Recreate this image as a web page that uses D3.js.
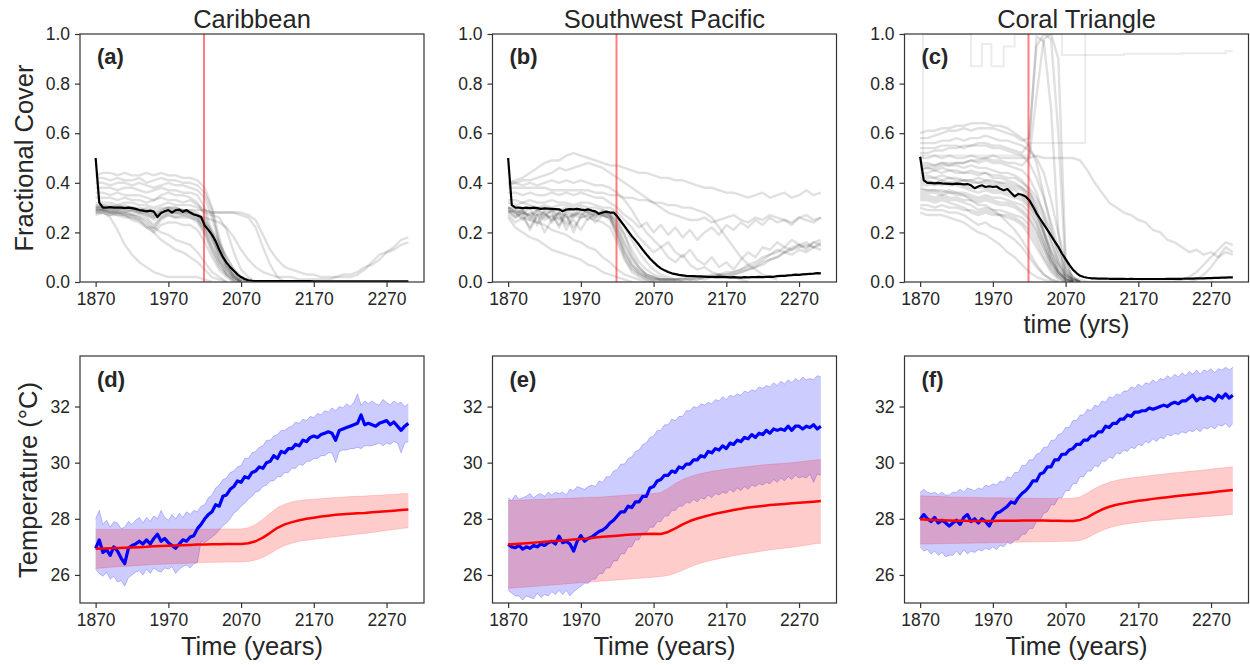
<!DOCTYPE html>
<html lang="en">
  <head>
    <meta charset="utf-8" />
    <title>Coral cover and temperature</title>
    <script src="https://d3js.org/d3.v7.js"></script>
    <style>
      body { margin: 0; background: #fff; }
      text { font-family: "Liberation Sans", Arial, sans-serif; fill: #262626; }
    </style>
  </head>
  <body>
    <div id="graph"></div>
    <script>

    // time grids (5-yr for means / blue ranges, 10-yr for runs and red ranges)
    var yrs5 = d3.range(1870, 2301, 5);
    var yrs10 = d3.range(1870, 2301, 10);

    var regions = ["Caribbean", "Southwest Pacific", "Coral Triangle"];
    var tagsTop = ["(a)", "(b)", "(c)"];
    var tagsBot = ["(d)", "(e)", "(f)"];
    var xTicks = [1870, 1970, 2070, 2170, 2270];
    var coverTicks = [0, 0.2, 0.4, 0.6, 0.8, 1.0];
    var tempTicks = [26, 28, 30, 32];
    var thresholdYear = 2019;

    // ---- fractional cover, ensemble mean (5-yr) ----
    var coverMeanCarib = [
      0.50, 0.32, 0.30, 0.30, 0.302, 0.30, 0.30, 0.30, 0.298, 0.30,
      0.298, 0.295, 0.29, 0.288, 0.285, 0.288, 0.284, 0.262, 0.278, 0.285,
      0.29, 0.28, 0.29, 0.292, 0.283, 0.29, 0.28, 0.272, 0.268, 0.262,
      0.228, 0.21, 0.19, 0.165, 0.13, 0.10, 0.078, 0.06, 0.045, 0.03,
      0.02, 0.012, 0.007, 0.005, 0.004, 0.004, 0.004, 0.004, 0.004, 0.004,
      0.004, 0.004, 0.004, 0.004, 0.004, 0.004, 0.004, 0.004, 0.004, 0.004,
      0.003, 0.003, 0.003, 0.003, 0.003, 0.003, 0.003, 0.003, 0.003, 0.003,
      0.003, 0.003, 0.003, 0.003, 0.003, 0.003, 0.003, 0.003, 0.003, 0.003,
      0.003, 0.003, 0.003, 0.003, 0.003, 0.003, 0.003
    ];
    var coverMeanSWP = [
      0.50, 0.31, 0.30, 0.30, 0.298, 0.30, 0.298, 0.30, 0.298, 0.295,
      0.297, 0.296, 0.295, 0.294, 0.293, 0.285, 0.292, 0.294, 0.293, 0.295,
      0.292, 0.29, 0.293, 0.288, 0.285, 0.275, 0.28, 0.284, 0.28, 0.28,
      0.265, 0.245, 0.225, 0.205, 0.185, 0.168, 0.15, 0.13, 0.112, 0.095,
      0.08, 0.066, 0.055, 0.047, 0.04, 0.035, 0.032, 0.029, 0.027, 0.025,
      0.024, 0.024, 0.023, 0.023, 0.022, 0.021, 0.021, 0.02, 0.021, 0.02,
      0.02, 0.019, 0.02, 0.019, 0.018, 0.02, 0.019, 0.02, 0.02, 0.021,
      0.02, 0.021, 0.022, 0.021, 0.024, 0.025, 0.025, 0.027, 0.028, 0.03,
      0.029, 0.031, 0.032, 0.033, 0.034, 0.036, 0.035
    ];
    var coverMeanCT = [
      0.505, 0.41, 0.40, 0.40, 0.398, 0.40, 0.398, 0.397, 0.396, 0.395,
      0.397, 0.396, 0.394, 0.395, 0.39, 0.378, 0.385, 0.39, 0.383, 0.386,
      0.383, 0.385, 0.376, 0.37, 0.375, 0.36, 0.345, 0.355, 0.352, 0.345,
      0.33, 0.305, 0.277, 0.255, 0.232, 0.21, 0.187, 0.164, 0.142, 0.115,
      0.092, 0.07, 0.05, 0.036, 0.025, 0.02, 0.017, 0.015, 0.015, 0.014,
      0.014, 0.014, 0.013, 0.013, 0.013, 0.013, 0.013, 0.012, 0.013, 0.012,
      0.012, 0.012, 0.012, 0.012, 0.012, 0.012, 0.012, 0.012, 0.013, 0.013,
      0.013, 0.013, 0.013, 0.014, 0.014, 0.014, 0.015, 0.015, 0.015, 0.016,
      0.016, 0.017, 0.017, 0.018, 0.018, 0.019, 0.019
    ];

    // ---- fractional cover, individual runs (10-yr, end once they reach 0) ----
    var coverRunsCarib = [
      [0.43, 0.44, 0.44, 0.43, 0.44, 0.43, 0.43, 0.44, 0.43, 0.44, 0.43, 0.43, 0.42, 0.42, 0.41, 0.38, 0.30, 0.18, 0.08, 0.03, 0.0],
      [0.42, 0.42, 0.41, 0.42, 0.41, 0.41, 0.42, 0.40, 0.41, 0.42, 0.41, 0.41, 0.40, 0.40, 0.39, 0.36, 0.29, 0.15, 0.06, 0.02, 0.0],
      [0.40, 0.40, 0.39, 0.40, 0.40, 0.39, 0.40, 0.39, 0.38, 0.39, 0.40, 0.39, 0.39, 0.38, 0.37, 0.34, 0.26, 0.16, 0.07, 0.02, 0.0],
      [0.38, 0.38, 0.38, 0.37, 0.38, 0.38, 0.37, 0.36, 0.37, 0.38, 0.37, 0.37, 0.36, 0.36, 0.35, 0.30, 0.20, 0.11, 0.05, 0.01, 0.0],
      [0.36, 0.36, 0.35, 0.36, 0.35, 0.35, 0.35, 0.34, 0.33, 0.35, 0.36, 0.35, 0.35, 0.34, 0.32, 0.27, 0.18, 0.09, 0.03, 0.0],
      [0.34, 0.34, 0.34, 0.33, 0.34, 0.33, 0.33, 0.32, 0.33, 0.34, 0.33, 0.33, 0.32, 0.33, 0.31, 0.29, 0.28, 0.28, 0.28, 0.28, 0.27, 0.26, 0.22, 0.14, 0.07, 0.02, 0.0],
      [0.30, 0.31, 0.30, 0.31, 0.30, 0.30, 0.29, 0.30, 0.29, 0.30, 0.30, 0.30, 0.29, 0.29, 0.29, 0.29, 0.28, 0.28, 0.28, 0.28, 0.28, 0.27, 0.25, 0.19, 0.13, 0.09, 0.06, 0.05, 0.04, 0.03, 0.03, 0.02, 0.02, 0.02, 0.03, 0.03, 0.04, 0.06, 0.07, 0.09, 0.12, 0.13, 0.15, 0.16],
      [0.29, 0.29, 0.29, 0.28, 0.28, 0.29, 0.28, 0.27, 0.26, 0.28, 0.29, 0.28, 0.28, 0.28, 0.27, 0.26, 0.25, 0.24, 0.22, 0.18, 0.13, 0.09, 0.06, 0.04, 0.03, 0.02, 0.02, 0.02, 0.01, 0.01, 0.01, 0.01, 0.01, 0.02, 0.02, 0.02, 0.03, 0.05, 0.08, 0.11, 0.12, 0.14, 0.17, 0.18],
      [0.28, 0.28, 0.26, 0.21, 0.15, 0.11, 0.08, 0.06, 0.04, 0.03, 0.02, 0.02, 0.02, 0.02, 0.02, 0.01, 0.0],
      [0.29, 0.29, 0.28, 0.28, 0.27, 0.26, 0.25, 0.23, 0.20, 0.17, 0.15, 0.13, 0.12, 0.10, 0.08, 0.05, 0.02, 0.01, 0.0],
      [0.30, 0.29, 0.28, 0.27, 0.27, 0.25, 0.24, 0.22, 0.22, 0.20, 0.19, 0.17, 0.16, 0.15, 0.12, 0.08, 0.04, 0.02, 0.0],
      [0.30, 0.30, 0.30, 0.29, 0.30, 0.29, 0.28, 0.27, 0.25, 0.27, 0.28, 0.28, 0.27, 0.27, 0.25, 0.21, 0.14, 0.08, 0.04, 0.02, 0.01, 0.0],
      [0.28, 0.29, 0.28, 0.28, 0.28, 0.27, 0.27, 0.26, 0.23, 0.26, 0.27, 0.26, 0.27, 0.26, 0.24, 0.19, 0.12, 0.06, 0.03, 0.01, 0.0],
      [0.31, 0.31, 0.31, 0.30, 0.31, 0.30, 0.30, 0.29, 0.27, 0.29, 0.30, 0.30, 0.29, 0.28, 0.26, 0.22, 0.17, 0.12, 0.07, 0.03, 0.01, 0.0],
      [0.27, 0.28, 0.27, 0.27, 0.26, 0.26, 0.25, 0.22, 0.20, 0.23, 0.24, 0.24, 0.23, 0.23, 0.21, 0.16, 0.10, 0.05, 0.02, 0.0],
      [0.29, 0.30, 0.29, 0.29, 0.29, 0.28, 0.28, 0.28, 0.26, 0.28, 0.29, 0.29, 0.28, 0.28, 0.27, 0.24, 0.20, 0.15, 0.10, 0.05, 0.02, 0.01, 0.0],
      [0.32, 0.32, 0.32, 0.31, 0.32, 0.32, 0.31, 0.31, 0.30, 0.31, 0.32, 0.31, 0.31, 0.31, 0.30, 0.28, 0.27, 0.26, 0.21, 0.12, 0.05, 0.02, 0.0],
      [0.29, 0.29, 0.28, 0.29, 0.28, 0.27, 0.26, 0.25, 0.22, 0.26, 0.28, 0.27, 0.28, 0.27, 0.26, 0.22, 0.15, 0.09, 0.05, 0.02, 0.0],
      [0.30, 0.30, 0.29, 0.30, 0.29, 0.29, 0.29, 0.28, 0.27, 0.28, 0.29, 0.28, 0.29, 0.28, 0.27, 0.24, 0.18, 0.11, 0.06, 0.03, 0.01, 0.0],
      [0.28, 0.28, 0.27, 0.28, 0.27, 0.27, 0.26, 0.24, 0.21, 0.25, 0.27, 0.26, 0.26, 0.26, 0.25, 0.20, 0.13, 0.07, 0.03, 0.01, 0.0],
      [0.31, 0.30, 0.30, 0.30, 0.30, 0.30, 0.29, 0.29, 0.28, 0.29, 0.30, 0.29, 0.29, 0.29, 0.28, 0.25, 0.21, 0.16, 0.10, 0.05, 0.02, 0.0]
    ];
    var coverRunsSWP = [
      [0.40, 0.41, 0.42, 0.44, 0.46, 0.48, 0.49, 0.49, 0.51, 0.52, 0.51, 0.50, 0.49, 0.48, 0.47, 0.47, 0.46, 0.45, 0.44, 0.44, 0.43, 0.42, 0.42, 0.41, 0.41, 0.40, 0.39, 0.38, 0.38, 0.37, 0.36, 0.36, 0.35, 0.34, 0.35, 0.36, 0.34, 0.35, 0.36, 0.34, 0.35, 0.37, 0.35, 0.36],
      [0.39, 0.40, 0.41, 0.41, 0.42, 0.43, 0.44, 0.46, 0.45, 0.46, 0.47, 0.48, 0.47, 0.46, 0.44, 0.42, 0.40, 0.38, 0.36, 0.34, 0.32, 0.30, 0.28, 0.27, 0.26, 0.25, 0.25, 0.26, 0.24, 0.25, 0.26, 0.27, 0.25, 0.24, 0.26, 0.25, 0.27, 0.26, 0.25, 0.24, 0.26, 0.27, 0.25, 0.26],
      [0.38, 0.38, 0.38, 0.38, 0.38, 0.38, 0.37, 0.37, 0.37, 0.37, 0.37, 0.37, 0.36, 0.36, 0.35, 0.35, 0.34, 0.34, 0.33, 0.33, 0.32, 0.32, 0.31, 0.31, 0.30, 0.30, 0.29, 0.28, 0.26, 0.22, 0.18, 0.14, 0.10, 0.07, 0.05, 0.03, 0.02, 0.01],
      [0.40, 0.40, 0.39, 0.40, 0.39, 0.40, 0.41, 0.40, 0.41, 0.40, 0.41, 0.40, 0.39, 0.39, 0.38, 0.36, 0.33, 0.29, 0.24, 0.20, 0.17, 0.14, 0.16, 0.12, 0.10, 0.13, 0.09, 0.07, 0.10, 0.06, 0.08, 0.05, 0.09, 0.12, 0.10, 0.14, 0.13, 0.16, 0.14, 0.17, 0.15, 0.16, 0.14, 0.15],
      [0.36, 0.36, 0.35, 0.36, 0.35, 0.35, 0.36, 0.35, 0.36, 0.35, 0.36, 0.35, 0.34, 0.34, 0.32, 0.30, 0.27, 0.25, 0.22, 0.24, 0.20, 0.23, 0.19, 0.22, 0.18, 0.21, 0.17, 0.20, 0.22, 0.19, 0.23, 0.21, 0.24, 0.22, 0.25, 0.23, 0.26, 0.24, 0.25, 0.23, 0.26, 0.25, 0.24, 0.26],
      [0.30, 0.29, 0.27, 0.30, 0.24, 0.29, 0.28, 0.22, 0.29, 0.27, 0.30, 0.28, 0.26, 0.29, 0.27, 0.22, 0.15, 0.09, 0.05, 0.03, 0.02, 0.01, 0.01, 0.01, 0.02, 0.01, 0.01, 0.02, 0.03, 0.03, 0.02, 0.03, 0.04, 0.05, 0.06, 0.08, 0.09, 0.10, 0.12, 0.13, 0.14, 0.15, 0.14, 0.16],
      [0.29, 0.27, 0.29, 0.25, 0.28, 0.26, 0.29, 0.27, 0.24, 0.28, 0.27, 0.29, 0.28, 0.27, 0.26, 0.20, 0.12, 0.07, 0.04, 0.02, 0.01, 0.01, 0.01, 0.01, 0.01, 0.02, 0.02, 0.01, 0.02, 0.03, 0.04, 0.04, 0.05, 0.07, 0.08, 0.10, 0.11, 0.13, 0.12, 0.14, 0.15, 0.13, 0.16, 0.15],
      [0.27, 0.24, 0.26, 0.22, 0.27, 0.20, 0.25, 0.26, 0.23, 0.25, 0.21, 0.26, 0.25, 0.24, 0.22, 0.16, 0.09, 0.05, 0.03, 0.02, 0.01, 0.01, 0.01, 0.01, 0.01, 0.01, 0.02, 0.02, 0.02, 0.02, 0.03, 0.03, 0.04, 0.05, 0.06, 0.07, 0.09, 0.10, 0.12, 0.11, 0.13, 0.12, 0.14, 0.13],
      [0.28, 0.29, 0.28, 0.27, 0.29, 0.28, 0.25, 0.28, 0.27, 0.20, 0.27, 0.28, 0.27, 0.28, 0.27, 0.24, 0.19, 0.13, 0.08, 0.05, 0.03, 0.02, 0.01, 0.0],
      [0.32, 0.31, 0.32, 0.31, 0.30, 0.31, 0.30, 0.31, 0.31, 0.30, 0.31, 0.30, 0.30, 0.29, 0.28, 0.26, 0.22, 0.17, 0.12, 0.08, 0.05, 0.03, 0.02, 0.01, 0.0],
      [0.26, 0.22, 0.20, 0.18, 0.17, 0.15, 0.13, 0.12, 0.11, 0.10, 0.09, 0.07, 0.06, 0.04, 0.03, 0.02, 0.01, 0.0],
      [0.30, 0.28, 0.26, 0.25, 0.24, 0.23, 0.21, 0.20, 0.19, 0.17, 0.16, 0.14, 0.13, 0.10, 0.08, 0.05, 0.03, 0.02, 0.01, 0.0],
      [0.33, 0.33, 0.32, 0.33, 0.32, 0.32, 0.33, 0.32, 0.32, 0.31, 0.32, 0.32, 0.31, 0.30, 0.30, 0.28, 0.25, 0.22, 0.18, 0.15, 0.12, 0.14, 0.10, 0.08, 0.11, 0.07, 0.05, 0.06, 0.04, 0.03, 0.02, 0.02, 0.01, 0.0],
      [0.30, 0.30, 0.29, 0.30, 0.29, 0.30, 0.29, 0.29, 0.30, 0.29, 0.29, 0.29, 0.28, 0.28, 0.27, 0.25, 0.19, 0.11, 0.06, 0.03, 0.02, 0.01, 0.0],
      [0.29, 0.26, 0.28, 0.21, 0.27, 0.25, 0.27, 0.23, 0.27, 0.22, 0.26, 0.27, 0.26, 0.27, 0.25, 0.18, 0.10, 0.04, 0.02, 0.01, 0.0],
      [0.30, 0.28, 0.29, 0.26, 0.29, 0.27, 0.29, 0.25, 0.28, 0.26, 0.29, 0.28, 0.27, 0.28, 0.27, 0.23, 0.16, 0.10, 0.06, 0.03, 0.02, 0.01, 0.01, 0.01, 0.01, 0.01, 0.01, 0.02, 0.02, 0.03, 0.03, 0.04, 0.05, 0.06, 0.07, 0.09, 0.11, 0.12, 0.14, 0.13, 0.15, 0.14, 0.16, 0.17],
      [0.29, 0.28, 0.25, 0.28, 0.27, 0.28, 0.24, 0.28, 0.26, 0.27, 0.28, 0.25, 0.28, 0.27, 0.26, 0.21, 0.13, 0.07, 0.04, 0.02, 0.01, 0.0],
      [0.28, 0.26, 0.28, 0.27, 0.23, 0.27, 0.26, 0.28, 0.21, 0.27, 0.26, 0.27, 0.24, 0.27, 0.26, 0.19, 0.11, 0.06, 0.03, 0.01, 0.0]
    ];
    var coverRunsCT = [
      [0.60, 0.61, 0.61, 0.62, 0.62, 0.63, 0.63, 0.64, 0.64, 0.64, 0.63, 0.63, 0.62, 0.60, 0.58, 0.55, 0.48, 0.35, 0.22, 0.10, 0.04, 0.01, 0.0],
      [0.58, 0.58, 0.59, 0.60, 0.61, 0.61, 0.62, 0.61, 0.62, 0.62, 0.62, 0.61, 0.60, 0.59, 0.57, 0.58, 0.95, 1.00, 0.98, 0.60, 0.05, 0.0],
      [0.56, 0.56, 0.56, 0.57, 0.57, 0.58, 0.57, 0.58, 0.58, 0.59, 0.58, 0.57, 0.57, 0.56, 0.55, 0.53, 0.50, 0.44, 0.33, 0.20, 0.08, 0.02, 0.0],
      [0.45, 0.46, 0.46, 0.47, 0.47, 0.48, 0.48, 0.49, 0.49, 0.50, 0.49, 0.49, 0.48, 0.48, 0.47, 0.50, 0.75, 0.98, 1.00, 0.90, 0.10, 0.0],
      [0.52, 0.52, 0.53, 0.53, 0.54, 0.54, 0.55, 0.55, 0.56, 0.56, 0.55, 0.55, 0.54, 0.53, 0.52, 0.56, 0.99, 0.97, 0.70, 0.20, 0.0],
      [0.48, 0.48, 0.47, 0.48, 0.47, 0.47, 0.46, 0.47, 0.46, 0.46, 0.45, 0.44, 0.44, 0.43, 0.41, 0.37, 0.30, 0.20, 0.10, 0.04, 0.01, 0.0],
      [0.42, 0.42, 0.42, 0.41, 0.42, 0.41, 0.41, 0.40, 0.40, 0.40, 0.39, 0.39, 0.38, 0.37, 0.35, 0.32, 0.27, 0.20, 0.12, 0.06, 0.02, 0.0],
      [0.40, 0.40, 0.39, 0.40, 0.39, 0.39, 0.38, 0.37, 0.36, 0.37, 0.36, 0.36, 0.35, 0.34, 0.33, 0.30, 0.24, 0.16, 0.08, 0.03, 0.01, 0.0],
      [0.36, 0.36, 0.36, 0.35, 0.36, 0.35, 0.35, 0.34, 0.33, 0.34, 0.33, 0.32, 0.32, 0.31, 0.29, 0.26, 0.21, 0.14, 0.07, 0.03, 0.01, 0.0],
      [0.33, 0.33, 0.32, 0.33, 0.32, 0.31, 0.30, 0.28, 0.27, 0.28, 0.27, 0.27, 0.26, 0.25, 0.23, 0.19, 0.14, 0.09, 0.04, 0.01, 0.0],
      [0.30, 0.29, 0.29, 0.29, 0.28, 0.28, 0.27, 0.25, 0.23, 0.24, 0.22, 0.21, 0.19, 0.17, 0.14, 0.10, 0.06, 0.03, 0.01, 0.0],
      [0.28, 0.27, 0.27, 0.27, 0.26, 0.25, 0.24, 0.22, 0.20, 0.19, 0.17, 0.15, 0.12, 0.10, 0.07, 0.04, 0.02, 0.01, 0.0],
      [0.38, 0.37, 0.37, 0.37, 0.36, 0.36, 0.35, 0.33, 0.31, 0.31, 0.29, 0.27, 0.24, 0.21, 0.17, 0.12, 0.07, 0.03, 0.01, 0.0],
      [0.44, 0.44, 0.45, 0.44, 0.45, 0.44, 0.44, 0.45, 0.44, 0.44, 0.43, 0.43, 0.42, 0.42, 0.40, 0.38, 0.34, 0.28, 0.20, 0.12, 0.05, 0.02, 0.0],
      [0.54, 0.54, 0.54, 0.55, 0.55, 0.55, 0.54, 0.55, 0.55, 0.55, 0.54, 0.54, 0.53, 0.52, 0.51, 0.48, 0.42, 0.34, 0.24, 0.14, 0.06, 0.02, 0.0],
      [0.50, 0.50, 0.51, 0.50, 0.51, 0.50, 0.50, 0.51, 0.50, 0.50, 0.51, 0.50, 0.50, 0.50, 0.50, 0.50, 0.51, 0.50, 0.50, 0.50, 0.50, 0.50, 0.49, 0.45, 0.40, 0.36, 0.32, 0.30, 0.28, 0.27, 0.25, 0.24, 0.21, 0.20, 0.17, 0.16, 0.14, 0.12, 0.13, 0.11, 0.12, 0.10, 0.12, 0.11],
      [0.35, 0.35, 0.34, 0.35, 0.34, 0.34, 0.33, 0.33, 0.32, 0.33, 0.32, 0.31, 0.31, 0.30, 0.28, 0.25, 0.20, 0.14, 0.08, 0.04, 0.02, 0.01, 0.01, 0.0, 0.0, 0.0, 0.0, 0.0, 0.0, 0.0, 0.0, 0.0, 0.0, 0.0, 0.0, 0.0, 0.01, 0.02, 0.04, 0.07, 0.10, 0.13, 0.16, 0.15],
      [0.46, 0.46, 0.45, 0.46, 0.45, 0.45, 0.44, 0.44, 0.43, 0.44, 0.42, 0.42, 0.41, 0.40, 0.38, 0.35, 0.29, 0.21, 0.13, 0.07, 0.03, 0.01, 0.0, 0.0, 0.0, 0.0, 0.0, 0.0, 0.0, 0.0, 0.0, 0.0, 0.0, 0.0, 0.0, 0.0, 0.0, 0.0, 0.01, 0.03, 0.06, 0.10, 0.14, 0.12],
      [0.31, 0.31, 0.30, 0.31, 0.30, 0.30, 0.29, 0.29, 0.28, 0.29, 0.28, 0.27, 0.27, 0.26, 0.24, 0.21, 0.16, 0.10, 0.05, 0.02, 0.0],
      [0.39, 0.39, 0.40, 0.39, 0.40, 0.40, 0.41, 0.41, 0.42, 0.41, 0.41, 0.40, 0.40, 0.39, 0.38, 0.36, 0.32, 0.25, 0.16, 0.08, 0.03, 0.01, 0.0],
      [0.43, 0.43, 0.42, 0.43, 0.42, 0.42, 0.41, 0.41, 0.40, 0.41, 0.40, 0.40, 0.39, 0.38, 0.37, 0.34, 0.28, 0.20, 0.12, 0.05, 0.02, 0.0],
      [0.37, 0.37, 0.37, 0.36, 0.37, 0.36, 0.36, 0.35, 0.34, 0.35, 0.34, 0.34, 0.33, 0.32, 0.31, 0.28, 0.23, 0.16, 0.09, 0.04, 0.01, 0.0],
      [0.41, 0.41, 0.40, 0.41, 0.40, 0.40, 0.39, 0.38, 0.38, 0.38, 0.37, 0.37, 0.36, 0.35, 0.34, 0.31, 0.26, 0.18, 0.10, 0.04, 0.01, 0.0],
      [0.34, 0.34, 0.33, 0.34, 0.33, 0.33, 0.32, 0.31, 0.29, 0.30, 0.29, 0.29, 0.28, 0.27, 0.26, 0.23, 0.18, 0.12, 0.06, 0.02, 0.0],
      [0.47, 0.47, 0.47, 0.48, 0.48, 0.48, 0.48, 0.49, 0.48, 0.49, 0.48, 0.48, 0.47, 0.46, 0.45, 0.42, 0.36, 0.27, 0.17, 0.08, 0.03, 0.01, 0.0]
    ];
    // two stepped runs in the Coral Triangle (change years and levels)
    var stepYearsCT1 = [1870, 1874, 1940, 1955, 1968, 1985, 2000, 2065, 2150, 2230, 2290, 2300];
    var stepCoverCT1 = [0.50, 1.00, 0.87, 0.96, 0.87, 0.95, 1.00, 0.915, 0.92, 0.922, 0.93, 0.93];
    var stepYearsCT2 = [1870, 2021, 2097];
    var stepCoverCT2 = [0.51, 0.56, 1.00];

    // ---- temperature, mean with +- range (blue, 5-yr) ----
    var tempCarib = [
      26.95, 27.25, 26.8, 26.9, 26.7, 27.0, 26.85, 26.6, 26.4, 26.95,
      27.05, 27.1, 27.2, 27.1, 27.25, 27.1, 27.3, 27.45, 27.2, 27.3,
      27.15, 27.05, 26.95, 27.1, 27.25, 27.2, 27.35, 27.4, 27.65, 27.8,
      28.0, 28.15, 28.25, 28.5, 28.45, 28.8, 28.85, 29.05, 29.15, 29.35,
      29.3, 29.5, 29.45, 29.65, 29.7, 29.85, 29.8, 30.0, 30.05, 30.25,
      30.15, 30.4, 30.35, 30.5, 30.5, 30.65, 30.6, 30.8, 30.75, 30.9,
      30.95, 30.9, 31.0, 31.05, 31.1, 31.05, 30.8, 31.15, 31.2, 31.25,
      31.3, 31.35, 31.4, 31.7, 31.35, 31.4, 31.35, 31.3, 31.4, 31.45,
      31.5, 31.35, 31.45, 31.3, 31.15, 31.3, 31.4
    ];
    var tempHiCarib = [
      28.0, 28.3, 27.8, 27.95, 27.7, 27.9, 27.85, 27.65, 27.7, 27.9,
      27.8, 27.95, 28.05, 27.85, 28.05, 27.9, 28.1, 28.0, 28.3, 28.05,
      27.95, 28.15, 28.0, 28.2, 28.05, 28.25, 28.15, 28.3, 28.25, 28.45,
      28.5, 28.75, 28.85, 29.1, 29.2, 29.4, 29.45, 29.65, 29.7, 29.85,
      29.9, 30.15, 30.15, 30.35, 30.4, 30.55, 30.6, 30.8, 30.8, 30.95,
      31.0, 31.15, 31.15, 31.25, 31.3, 31.45, 31.4, 31.55, 31.5, 31.65,
      31.6, 31.75, 31.7, 31.85, 31.8, 31.95, 31.85, 32.0, 31.95, 32.1,
      32.0, 32.15, 32.45, 32.05, 32.2, 32.1, 32.2, 32.1, 32.05, 32.25,
      32.15, 32.05, 32.2, 32.1, 32.15, 32.0, 32.1
    ];
    var tempLoCarib = [
      26.2, 26.05, 25.95, 26.1, 25.85, 25.95, 25.75, 25.8, 25.6, 25.9,
      26.0, 26.1, 26.15, 26.0, 26.2, 26.05, 26.25, 26.15, 26.1, 26.25,
      26.2, 26.3, 26.05, 26.2, 26.3, 26.35, 26.25, 26.4, 26.45, 27.2,
      27.15, 27.25, 27.35, 27.45, 27.6, 27.75, 27.85, 28.0, 28.2, 28.3,
      28.45, 28.55, 28.7, 28.8, 28.95, 29.0, 29.15, 29.2, 29.35, 29.35,
      29.5, 29.5, 29.65, 29.65, 29.8, 29.8, 29.95, 29.9, 30.05, 30.05,
      30.15, 30.15, 30.25, 30.25, 30.35, 30.35, 30.0, 30.4, 30.45, 30.45,
      30.5, 30.5, 30.55, 30.5, 30.6, 30.6, 30.6, 30.65, 30.7, 30.6,
      30.7, 30.65, 30.75, 30.7, 30.35, 30.7, 30.75
    ];
    var tempSWP = [
      27.09, 27.0, 26.97, 27.05, 26.92, 27.0, 26.95, 27.05, 27.0, 27.1,
      27.05, 27.15, 27.2, 27.1, 27.38, 27.15, 27.2, 27.1, 26.85, 27.2,
      27.4, 27.2, 27.3, 27.35, 27.45, 27.55, 27.6, 27.7, 27.85, 27.95,
      28.1, 28.25, 28.25, 28.45, 28.4, 28.6, 28.6, 28.8, 28.8, 29.1,
      29.15, 29.35, 29.4, 29.55, 29.55, 29.7, 29.65, 29.85, 29.8, 29.95,
      29.95, 30.1, 30.1, 30.25, 30.2, 30.4, 30.35, 30.5, 30.45, 30.6,
      30.5, 30.7, 30.65, 30.8, 30.75, 30.9, 30.85, 31.0, 30.9, 31.05,
      31.0, 31.15, 31.05, 31.2, 31.15, 31.2, 31.15, 31.3, 31.15, 31.3,
      31.3, 31.2, 31.3, 31.25, 31.35, 31.2, 31.3
    ];
    var tempHiSWP = [
      28.75, 28.65, 28.85, 28.7, 28.75, 28.8, 28.9, 28.75, 28.85, 28.9,
      28.8, 28.95, 28.85, 28.95, 28.9, 28.95, 28.85, 29.05, 29.0, 29.15,
      29.1, 29.05, 29.15, 29.2, 29.15, 29.35, 29.3, 29.5, 29.5, 29.7,
      29.75, 29.95, 29.95, 30.15, 30.2, 30.4, 30.45, 30.65, 30.7, 30.9,
      30.95, 31.15, 31.15, 31.35, 31.35, 31.55, 31.5, 31.65, 31.65, 31.85,
      31.85, 32.0, 31.95, 32.1, 32.05, 32.15, 32.1, 32.25, 32.2, 32.35,
      32.25, 32.4, 32.35, 32.45, 32.4, 32.55, 32.5, 32.6, 32.55, 32.7,
      32.65, 32.75, 32.7, 32.85, 32.75, 32.9, 32.8, 32.95, 32.85, 33.0,
      32.9, 33.05, 32.95, 33.0, 32.95, 33.1, 33.05
    ];
    var tempLoSWP = [
      25.45, 25.35, 25.25, 25.25, 25.1, 25.25, 25.2, 25.15, 25.35, 25.2,
      25.3, 25.25, 25.4, 25.3, 25.45, 25.3, 25.45, 25.25, 25.4, 25.5,
      25.6, 25.7, 25.7, 25.85, 25.85, 26.05, 26.05, 26.25, 26.25, 26.5,
      26.5, 26.75, 26.75, 27.0, 27.0, 27.25, 27.25, 27.5, 27.5, 27.7,
      27.7, 27.9, 27.9, 28.1, 28.1, 28.3, 28.3, 28.45, 28.45, 28.6,
      28.55, 28.7, 28.6, 28.75, 28.7, 28.85, 28.75, 28.9, 28.85, 28.95,
      28.9, 29.05, 28.95, 29.1, 29.0, 29.15, 29.05, 29.2, 29.15, 29.25,
      29.2, 29.3, 29.25, 29.4, 29.3, 29.45, 29.35, 29.5, 29.4, 29.55,
      29.45, 29.5, 29.45, 29.6, 29.3, 29.6, 29.55
    ];
    var tempCT = [
      27.98, 28.15, 28.0, 27.9, 28.05, 27.85, 27.95, 27.86, 27.74, 27.85,
      27.95, 27.8, 28.05, 28.15, 27.9, 28.0, 27.85, 28.0, 27.9, 27.74,
      28.0, 28.2, 28.25, 28.35, 28.45, 28.6, 28.55, 28.75, 28.9, 29.0,
      29.15, 29.35, 29.35, 29.6, 29.65, 29.85, 29.85, 30.1, 30.1, 30.3,
      30.3, 30.45, 30.5, 30.65, 30.65, 30.8, 30.8, 30.95, 30.95, 31.1,
      31.1, 31.3, 31.25, 31.4, 31.4, 31.55, 31.55, 31.7, 31.65, 31.8,
      31.8, 31.85, 31.85, 31.95, 31.9, 31.95, 32.0, 32.05, 32.0, 32.1,
      32.15, 32.1, 32.2, 32.2, 32.3, 32.4, 32.2, 32.3, 32.25, 32.35,
      32.3, 32.2, 32.4, 32.3, 32.45, 32.3, 32.4
    ];
    var tempHiCT = [
      28.95, 29.05, 28.95, 28.9, 28.95, 28.85, 28.95, 28.85, 28.85, 28.95,
      28.95, 29.05, 28.95, 29.1, 29.05, 29.0, 29.1, 29.05, 29.2, 29.15,
      29.25, 29.2, 29.35, 29.3, 29.5, 29.45, 29.65, 29.65, 29.9, 29.9,
      30.1, 30.1, 30.3, 30.35, 30.55, 30.55, 30.8, 30.8, 31.0, 31.05,
      31.25, 31.25, 31.5, 31.5, 31.7, 31.7, 31.9, 31.85, 32.05, 32.0,
      32.2, 32.15, 32.35, 32.3, 32.45, 32.4, 32.55, 32.55, 32.7, 32.65,
      32.8, 32.7, 32.85, 32.8, 32.95, 32.85, 33.0, 32.95, 33.1, 33.0,
      33.15, 33.05, 33.2, 33.1, 33.25, 33.15, 33.3, 33.15, 33.3, 33.25,
      33.35, 33.2, 33.35, 33.3, 33.4, 33.3, 33.4
    ];
    var tempLoCT = [
      27.0, 26.85, 26.9, 26.75, 26.85, 26.7, 26.8, 26.65, 26.7, 26.7,
      26.85, 26.7, 26.9, 26.75, 26.85, 26.8, 26.9, 26.85, 26.95, 26.9,
      27.0, 26.9, 27.05, 27.0, 27.15, 27.1, 27.25, 27.25, 27.45, 27.45,
      27.65, 27.65, 27.9, 27.95, 28.2, 28.25, 28.5, 28.5, 28.75, 28.75,
      29.0, 29.0, 29.25, 29.25, 29.5, 29.5, 29.7, 29.7, 29.9, 29.85,
      30.05, 30.05, 30.2, 30.15, 30.35, 30.3, 30.45, 30.4, 30.55, 30.5,
      30.65, 30.6, 30.75, 30.7, 30.85, 30.75, 30.9, 30.85, 31.0, 30.95,
      31.05, 31.0, 31.1, 31.05, 31.15, 31.1, 31.2, 31.1, 31.25, 31.2,
      31.3, 31.2, 31.35, 31.3, 31.4, 31.25, 31.4
    ];

    // ---- temperature, second scenario (red, 10-yr) ----
    var redCarib = [
      26.93, 26.94, 26.95, 26.96, 26.97, 26.98, 26.99, 27.0, 27.02, 27.03,
      27.04, 27.05, 27.06, 27.07, 27.08, 27.08, 27.09, 27.09, 27.1, 27.1,
      27.1, 27.13, 27.2, 27.33, 27.5, 27.68, 27.8, 27.88, 27.95, 28.0,
      28.04, 28.08, 28.11, 28.14, 28.16, 28.18, 28.2, 28.21, 28.23, 28.25,
      28.27, 28.29, 28.31, 28.33
    ];
    var redHiCarib = [
      27.62, 27.62, 27.62, 27.62, 27.62, 27.62, 27.62, 27.63, 27.63, 27.63,
      27.63, 27.63, 27.63, 27.63, 27.63, 27.63, 27.63, 27.64, 27.64, 27.64,
      27.64, 27.68, 27.8, 27.98, 28.2, 28.4, 28.52, 28.6, 28.65, 28.68,
      28.7, 28.72, 28.74, 28.76, 28.77, 28.79, 28.8, 28.81, 28.83, 28.84,
      28.86, 28.87, 28.89, 28.9
    ];
    var redLoCarib = [
      26.23, 26.25, 26.27, 26.29, 26.3, 26.32, 26.34, 26.35, 26.37, 26.38,
      26.39, 26.4, 26.41, 26.42, 26.43, 26.44, 26.45, 26.45, 26.46, 26.46,
      26.46, 26.48, 26.53, 26.62, 26.76, 26.92, 27.05, 27.13, 27.2, 27.24,
      27.27, 27.3, 27.33, 27.36, 27.39, 27.42, 27.45, 27.48, 27.51, 27.55,
      27.58, 27.62, 27.65, 27.68
    ];
    var redSWP = [
      27.08, 27.1, 27.12, 27.14, 27.16, 27.18, 27.2, 27.22, 27.24, 27.26,
      27.28, 27.3, 27.33, 27.36, 27.38, 27.4, 27.42, 27.44, 27.45, 27.46,
      27.47, 27.46, 27.53, 27.66, 27.8, 27.92, 28.01, 28.08, 28.15, 28.21,
      28.26, 28.31, 28.36, 28.4, 28.43, 28.46, 28.49, 28.51, 28.53, 28.55,
      28.57, 28.59, 28.61, 28.63
    ];
    var redHiSWP = [
      28.65, 28.66, 28.67, 28.68, 28.69, 28.7, 28.71, 28.72, 28.73, 28.74,
      28.75, 28.76, 28.77, 28.78, 28.8, 28.82, 28.84, 28.86, 28.87, 28.88,
      28.9, 28.94, 29.08, 29.26, 29.4, 29.5, 29.58, 29.64, 29.69, 29.73,
      29.77, 29.8, 29.83, 29.86, 29.89, 29.92, 29.94, 29.96, 29.98, 30.0,
      30.03, 30.06, 30.09, 30.11
    ];
    var redLoSWP = [
      25.52, 25.54, 25.56, 25.58, 25.6, 25.62, 25.64, 25.66, 25.68, 25.7,
      25.72, 25.74, 25.76, 25.78, 25.8, 25.82, 25.84, 25.86, 25.88, 25.9,
      25.92, 25.94, 25.98, 26.06, 26.17, 26.28, 26.38, 26.46, 26.52, 26.58,
      26.63, 26.68, 26.73, 26.77, 26.81, 26.85, 26.89, 26.92, 26.95, 26.98,
      27.02, 27.06, 27.1, 27.13
    ];
    var redCT = [
      27.98, 27.97, 27.96, 27.95, 27.94, 27.93, 27.93, 27.92, 27.92, 27.92,
      27.92, 27.93, 27.93, 27.93, 27.94, 27.94, 27.94, 27.94, 27.93, 27.93,
      27.92, 27.92, 27.96, 28.05, 28.2, 28.33, 28.43, 28.5, 28.55, 28.6,
      28.64, 28.67, 28.71, 28.74, 28.77, 28.8, 28.83, 28.86, 28.88, 28.91,
      28.94, 28.97, 29.0, 29.03
    ];
    var redHiCT = [
      28.82, 28.81, 28.8, 28.79, 28.78, 28.77, 28.77, 28.76, 28.76, 28.75,
      28.75, 28.75, 28.74, 28.74, 28.74, 28.73, 28.73, 28.73, 28.72, 28.72,
      28.72, 28.73, 28.78, 28.92, 29.08, 29.2, 29.3, 29.37, 29.42, 29.46,
      29.49, 29.52, 29.55, 29.58, 29.61, 29.64, 29.66, 29.69, 29.71, 29.74,
      29.77, 29.8, 29.83, 29.85
    ];
    var redLoCT = [
      27.1, 27.1, 27.11, 27.11, 27.12, 27.12, 27.13, 27.13, 27.14, 27.14,
      27.15, 27.15, 27.16, 27.16, 27.17, 27.17, 27.18, 27.18, 27.19, 27.19,
      27.2, 27.2, 27.23, 27.32, 27.46, 27.58, 27.68, 27.75, 27.8, 27.84,
      27.87, 27.9, 27.93, 27.95, 27.97, 27.99, 28.01, 28.03, 28.05, 28.07,
      28.09, 28.11, 28.13, 28.15
    ];

    // ---- layout ----
    var w = 1250, h = 665;
    var colLeft = [80, 492.5, 904.5];
    var plotW = 344;
    var topY = 34, topH = 248;
    var botY = 356, botH = 247;

    var x = d3.scaleLinear().domain([1848.5, 2321.5]).range([0, plotW]);
    var yCover = d3.scaleLinear().domain([0, 1]).range([topH, 0]);
    var yTemp = d3.scaleLinear().domain([25, 33.8]).range([botH, 0]);

    var svg = d3.select("#graph")
      .append("svg")
        .attr("width", w)
        .attr("height", h);

    function pairs(years, vals) {
      return vals.map((v, i) => [years[i], v]);
    }

    function band(years, lo, hi) {
      return lo.map((v, i) => ({yr: years[i], lo: v, hi: hi[i]}));
    }

    function drawFrame(g, height, yScale, ticks, fmt, id) {
      g.append("clipPath").attr("id", id)
        .append("rect").attr("width", plotW).attr("height", height);

      g.append("g")
        .attr("transform", `translate(0,${height})`)
        .call(d3.axisBottom(x).tickValues(xTicks).tickFormat(d3.format("d")).tickSize(5).tickPadding(6))
        .call(ax => ax.select(".domain").remove());

      g.append("g")
        .call(d3.axisLeft(yScale).tickValues(ticks).tickFormat(fmt).tickSize(5).tickPadding(5))
        .call(ax => ax.select(".domain").remove());

      g.selectAll(".tick line").attr("stroke", "#333").attr("stroke-width", 1.2);
      g.selectAll(".tick text")
        .attr("fill", "#262626")
        .style("font-size", "17.5px")
        .style("font-family", "'Liberation Sans', Arial, sans-serif");
    }

    function drawBox(g, height) {
      g.append("rect")
        .attr("width", plotW)
        .attr("height", height)
        .attr("fill", "none")
        .attr("stroke", "#333")
        .attr("stroke-width", 1.2);
    }

    // ---- top row: fractional cover ----
    var coverMeans = [coverMeanCarib, coverMeanSWP, coverMeanCT];
    var coverRuns = [coverRunsCarib, coverRunsSWP, coverRunsCT];

    var coverLine = d3.line().x(d => x(d[0])).y(d => yCover(d[1]));
    var stepLine = d3.line().x(d => x(d[0])).y(d => yCover(d[1])).curve(d3.curveStepAfter);

    regions.forEach(function(name, k) {
      var g = svg.append("g").attr("transform", `translate(${colLeft[k]},${topY})`);
      drawFrame(g, topH, yCover, coverTicks, d3.format(".1f"), "clipTop" + k);

      var plot = g.append("g").attr("clip-path", `url(#clipTop${k})`);

      plot.selectAll(".run")
        .data(coverRuns[k])
        .join("path")
          .attr("class", "run")
          .attr("d", r => coverLine(pairs(yrs10, r)))
          .attr("fill", "none")
          .attr("stroke", "#000")
          .attr("stroke-opacity", 0.12)
          .attr("stroke-width", 2.4)
          .attr("stroke-linejoin", "round");

      if (k === 2) {
        [[stepYearsCT1, stepCoverCT1], [stepYearsCT2, stepCoverCT2]].forEach(function(s) {
          plot.append("path")
            .attr("d", stepLine(pairs(s[0], s[1])))
            .attr("fill", "none")
            .attr("stroke", "#000")
            .attr("stroke-opacity", 0.08)
            .attr("stroke-width", 2);
        });
      }

      plot.append("line")
        .attr("x1", x(thresholdYear)).attr("x2", x(thresholdYear))
        .attr("y1", 0).attr("y2", topH)
        .attr("stroke", "#ff0000")
        .attr("stroke-opacity", 0.5)
        .attr("stroke-width", 2);

      plot.append("path")
        .attr("d", coverLine(pairs(yrs5, coverMeans[k])))
        .attr("fill", "none")
        .attr("stroke", "#000")
        .attr("stroke-width", 2.2)
        .attr("stroke-linejoin", "round");

      drawBox(g, topH);

      g.append("text")
        .attr("x", plotW / 2)
        .attr("y", 27.5 - topY)
        .attr("text-anchor", "middle")
        .style("font-size", "25.5px")
        .text(name);

      g.append("text")
        .attr("x", 17)
        .attr("y", 30)
        .style("font-size", "22px")
        .style("font-weight", "bold")
        .text(tagsTop[k]);
    });

    // ---- bottom row: temperature ----
    var tempMeans = [tempCarib, tempSWP, tempCT];
    var tempHis = [tempHiCarib, tempHiSWP, tempHiCT];
    var tempLos = [tempLoCarib, tempLoSWP, tempLoCT];
    var redMeans = [redCarib, redSWP, redCT];
    var redHis = [redHiCarib, redHiSWP, redHiCT];
    var redLos = [redLoCarib, redLoSWP, redLoCT];

    var tempLine = d3.line().x(d => x(d[0])).y(d => yTemp(d[1]));
    var tempArea = d3.area().x(d => x(d.yr)).y0(d => yTemp(d.lo)).y1(d => yTemp(d.hi));

    regions.forEach(function(name, k) {
      var g = svg.append("g").attr("transform", `translate(${colLeft[k]},${botY})`);
      drawFrame(g, botH, yTemp, tempTicks, d3.format("d"), "clipBot" + k);

      var plot = g.append("g").attr("clip-path", `url(#clipBot${k})`);

      // blue range
      plot.append("path")
        .attr("d", tempArea(band(yrs5, tempLos[k], tempHis[k])))
        .attr("fill", "#0000ff")
        .attr("fill-opacity", 0.2);
      [tempHis[k], tempLos[k]].forEach(function(edge) {
        plot.append("path")
          .attr("d", tempLine(pairs(yrs5, edge)))
          .attr("fill", "none")
          .attr("stroke", "#0000ff")
          .attr("stroke-opacity", 0.22)
          .attr("stroke-width", 1);
      });

      // red range
      plot.append("path")
        .attr("d", tempArea(band(yrs10, redLos[k], redHis[k])))
        .attr("fill", "#ff0000")
        .attr("fill-opacity", 0.2);
      [redHis[k], redLos[k]].forEach(function(edge) {
        plot.append("path")
          .attr("d", tempLine(pairs(yrs10, edge)))
          .attr("fill", "none")
          .attr("stroke", "#ff0000")
          .attr("stroke-opacity", 0.15)
          .attr("stroke-width", 1);
      });

      plot.append("path")
        .attr("d", tempLine(pairs(yrs5, tempMeans[k])))
        .attr("fill", "none")
        .attr("stroke", "#0000ff")
        .attr("stroke-width", 3.2)
        .attr("stroke-linejoin", "round");

      plot.append("path")
        .attr("d", tempLine(pairs(yrs10, redMeans[k])))
        .attr("fill", "none")
        .attr("stroke", "#ff0000")
        .attr("stroke-width", 2.5)
        .attr("stroke-linejoin", "round");

      drawBox(g, botH);

      g.append("text")
        .attr("x", 17)
        .attr("y", 31)
        .style("font-size", "22px")
        .style("font-weight", "bold")
        .text(tagsBot[k]);

      g.append("text")
        .attr("x", plotW / 2)
        .attr("y", 655 - botY)
        .attr("text-anchor", "middle")
        .style("font-size", "25.5px")
        .text("Time (years)");
    });

    // axis titles
    svg.append("text")
      .attr("transform", "translate(33,158) rotate(-90)")
      .attr("text-anchor", "middle")
      .style("font-size", "25.5px")
      .text("Fractional Cover");

    svg.append("text")
      .attr("transform", "translate(37,480) rotate(-90)")
      .attr("text-anchor", "middle")
      .style("font-size", "25.5px")
      .text("Temperature (°C)");

    svg.append("text")
      .attr("x", colLeft[2] + plotW / 2)
      .attr("y", 333)
      .attr("text-anchor", "middle")
      .style("font-size", "25.5px")
      .text("time (yrs)");

    </script>
  </body>
</html>
